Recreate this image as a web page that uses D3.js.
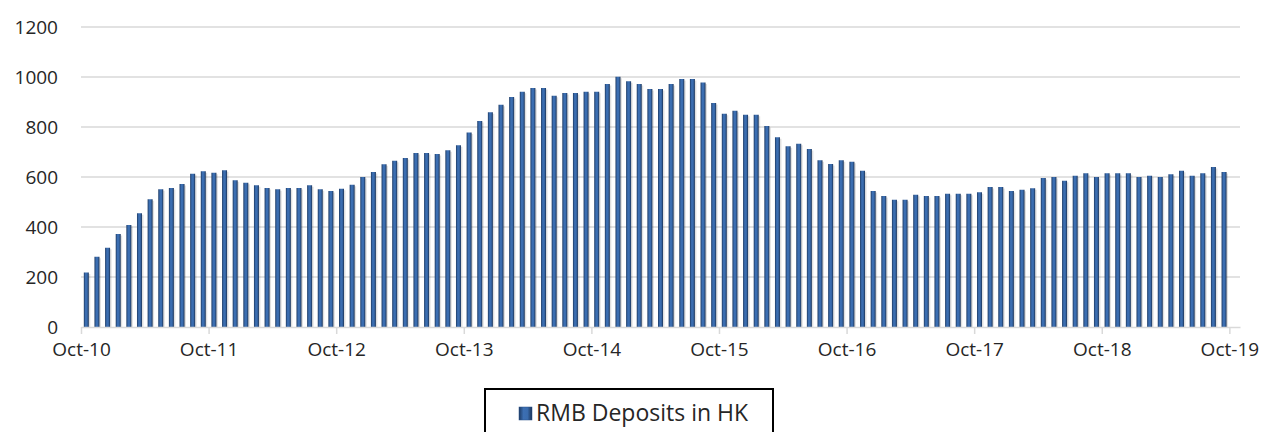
<!DOCTYPE html>
<html>
<head>
<meta charset="utf-8">
<script src="https://cdn.jsdelivr.net/npm/d3@7"></script>
<style>
  body { margin: 0; background: #fff; }
  svg { display: block; font-family: "Open Sans", sans-serif; }
</style>
</head>
<body>
<div id="chart"></div>
<script>
// monthly RMB deposits in HK, Oct-10 .. Sep-19
const deposits = [
  218, 281, 317, 372, 408, 455, 511, 551, 556, 572, 613, 623,
  617, 627, 587, 577, 567, 556, 551, 556, 556, 567, 551, 544,
  553, 569, 600, 620, 651, 665, 676, 696, 696, 692, 707, 727,
  778, 824, 859, 889, 920, 941, 956, 956, 925, 936, 936, 941,
  941, 972, 1001, 983, 972, 952, 952, 972, 992, 992, 978, 896,
  853, 865, 849, 849, 804, 759, 723, 733, 712, 667, 652, 667,
  661, 625, 544, 524, 509, 509, 529, 524, 524, 533, 533, 533,
  539, 560, 560, 544, 549, 555, 596, 600, 585, 605, 615, 600,
  615, 615, 615, 600, 605, 600, 611, 625, 605, 615, 640, 620
];
const yTicks = [0, 200, 400, 600, 800, 1000, 1200];
const xTickLabels = ["Oct-10", "Oct-11", "Oct-12", "Oct-13", "Oct-14",
  "Oct-15", "Oct-16", "Oct-17", "Oct-18", "Oct-19"];
const seriesName = "RMB Deposits in HK";

const width = 1267, height = 432;
const margin = { top: 27, right: 27, bottom: 105, left: 81 };
const nMonths = deposits.length + 1; // axis runs through Oct-19

const svg = d3.select("#chart").append("svg")
  .attr("width", width)
  .attr("height", height);

const defs = svg.append("defs");
const grad = defs.append("linearGradient")
  .attr("id", "barGrad")
  .attr("x1", "0%").attr("x2", "100%").attr("y1", "0%").attr("y2", "0%");
grad.append("stop").attr("offset", "0%").attr("stop-color", "#1d3a63");
grad.append("stop").attr("offset", "35%").attr("stop-color", "#3c6fb3");
grad.append("stop").attr("offset", "65%").attr("stop-color", "#3a6cae");
grad.append("stop").attr("offset", "100%").attr("stop-color", "#1b3357");

const x = d3.scaleLinear()
  .domain([0, nMonths])
  .range([margin.left, width - margin.right]);

const y = d3.scaleLinear()
  .domain([0, 1200])
  .range([height - margin.bottom, margin.top]);

// gridlines
svg.append("g")
  .selectAll("line")
  .data(yTicks.filter(d => d > 0))
  .join("line")
  .attr("x1", x(0))
  .attr("x2", x(nMonths))
  .attr("y1", d => y(d))
  .attr("y2", d => y(d))
  .attr("stroke", "#d9d9d9")
  .attr("stroke-width", 1.5);

// y axis (labels only)
const yAxis = svg.append("g")
  .attr("transform", `translate(${margin.left},0)`)
  .call(d3.axisLeft(y).tickValues(yTicks).tickFormat(d3.format("d"))
    .tickSize(0).tickPadding(23));
yAxis.select(".domain").remove();
yAxis.selectAll("text")
  .attr("font-size", 19)
  .attr("font-family", "Open Sans, sans-serif")
  .attr("fill", "#262626");

const bw = 5;
// soft shadow behind each bar
svg.append("g")
  .selectAll("rect")
  .data(deposits)
  .join("rect")
  .attr("x", (d, i) => x(i + 0.5) - bw / 2 + 1.5)
  .attr("y", d => y(d) + 1.5)
  .attr("width", bw)
  .attr("height", d => y(0) - y(d) - 1.5)
  .attr("fill", "#000")
  .attr("opacity", 0.12);

svg.append("g")
  .selectAll("rect")
  .data(deposits)
  .join("rect")
  .attr("x", (d, i) => x(i + 0.5) - bw / 2)
  .attr("y", d => y(d))
  .attr("width", bw)
  .attr("height", d => y(0) - y(d))
  .attr("fill", "url(#barGrad)");

// x axis
const xAxis = svg.append("g")
  .attr("transform", `translate(0,${y(0)})`)
  .call(d3.axisBottom(x)
    .tickValues(xTickLabels.map((d, i) => i * 12))
    .tickFormat((d, i) => xTickLabels[i])
    .tickSizeInner(7)
    .tickSizeOuter(0)
    .tickPadding(9));
xAxis.select(".domain").attr("stroke", "#d9d9d9").attr("stroke-width", 1.5);
xAxis.selectAll(".tick line").attr("stroke", "#d9d9d9").attr("stroke-width", 1.5);
xAxis.selectAll("text")
  .attr("font-size", 19)
  .attr("font-family", "Open Sans, sans-serif")
  .attr("fill", "#262626");

// legend
const legend = svg.append("g");
legend.append("rect")
  .attr("x", 485).attr("y", 389)
  .attr("width", 288).attr("height", 60)
  .attr("fill", "#fff")
  .attr("stroke", "#000")
  .attr("stroke-width", 2);
legend.append("rect")
  .attr("x", 519).attr("y", 407)
  .attr("width", 13).attr("height", 13)
  .attr("fill", "url(#barGrad)")
  .attr("stroke", "#2a5188")
  .attr("stroke-width", 0.5);
legend.append("text")
  .attr("x", 536).attr("y", 421)
  .attr("font-size", 23)
  .attr("fill", "#262626")
  .text(seriesName);
</script>
</body>
</html>
